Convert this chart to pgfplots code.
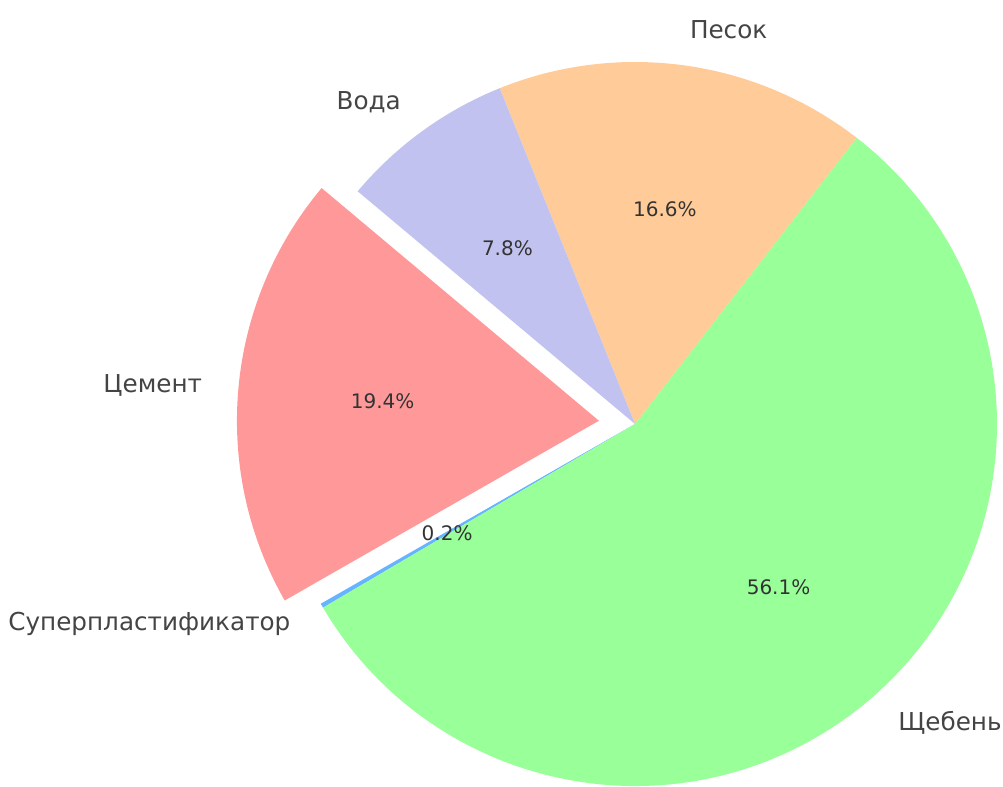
\documentclass[border=0pt]{standalone}
\usepackage{fontspec}
\setmainfont{DejaVu Sans}
\usepackage{pgfplots}
\usepackage{pgfplotstable}
\pgfplotsset{compat=1.18}

\definecolor{cem}{HTML}{FF9999}
\definecolor{sp}{HTML}{66B3FF}
\definecolor{gr}{HTML}{99FF99}
\definecolor{sand}{HTML}{FFCC99}
\definecolor{water}{HTML}{C2C2F0}
\definecolor{labc}{HTML}{444444}
\definecolor{pctc}{HTML}{333333}

\newcommand\labfont{\fontsize{18.5}{22}\selectfont}
\newcommand\pctfont{\fontsize{15}{18}\selectfont}

% shares in percent, counterclockwise from 140 deg
\pgfplotstableread[col sep=comma]{
label,pct,col,expl
Цемент,19.4,cem,0.1
Суперпластификатор,0.2,sp,0
Щебень,56.1,gr,0
Песок,16.6,sand,0
Вода,7.8,water,0
}\piedata

% #1 = 0: wedges, #1 = 1: texts (drawn on top)
\newcommand\piepass[1]{%
\pgfplotstablegetrowsof{\piedata}%
\pgfmathtruncatemacro\nrows{\pgfplotsretval-1}%
\xdef\curang{140}%
\pgfplotsforeachungrouped \i in {0,...,\nrows}{%
  \pgfplotstablegetelem{\i}{pct}\of\piedata \let\pv\pgfplotsretval
  \pgfplotstablegetelem{\i}{label}\of\piedata \let\lb\pgfplotsretval
  \pgfplotstablegetelem{\i}{col}\of\piedata \let\cl\pgfplotsretval
  \pgfplotstablegetelem{\i}{expl}\of\piedata \let\ex\pgfplotsretval
  \pgfmathsetmacro\endang{\curang+\pv/100.1*360}%
  \pgfmathsetmacro\midang{(\curang+\endang)/2}%
  \pgfmathsetmacro\ox{635+\ex*362*cos(\midang)}%
  \pgfmathsetmacro\oy{363+\ex*362*sin(\midang)}%
  \pgfmathsetmacro\lx{\ox+1.1*362*cos(\midang)}%
  \pgfmathsetmacro\ly{\oy+1.1*362*sin(\midang)}%
  \pgfmathsetmacro\px{\ox+0.6*362*cos(\midang)}%
  \pgfmathsetmacro\py{\oy+0.6*362*sin(\midang)}%
  \pgfmathtruncatemacro\isleft{cos(\midang)<0}%
  \ifnum\isleft=1 \def\anc{east}\else\def\anc{west}\fi
  \ifnum#1=0
    \edef\temp{%
      \noexpand\fill[\cl] (axis cs:\ox,\oy) -- ++(\curang:271.5pt)
        arc[start angle=\curang, end angle=\endang, radius=271.5pt] -- cycle;
    }%
  \else
    \edef\temp{%
      \noexpand\node[anchor=\anc, font=\noexpand\labfont, text=labc, inner sep=0pt]
        at (axis cs:\lx,\ly) {\lb};
      \noexpand\node[font=\noexpand\pctfont, text=pctc, inner sep=0pt]
        at (axis cs:\px,\py) {\pv\noexpand\%};
    }%
  \fi
  \temp
  \xdef\curang{\endang}%
}}

\begin{document}
\begin{tikzpicture}
\begin{axis}[hide axis, scale only axis, x=0.75pt, y=0.75pt,
  xmin=0, xmax=1003, ymin=0, ymax=787, clip=false]
\piepass{0}
\piepass{1}
\end{axis}
\pgfresetboundingbox
\path (0,0) rectangle (752.25pt,590.25pt);
\end{tikzpicture}
\end{document}
